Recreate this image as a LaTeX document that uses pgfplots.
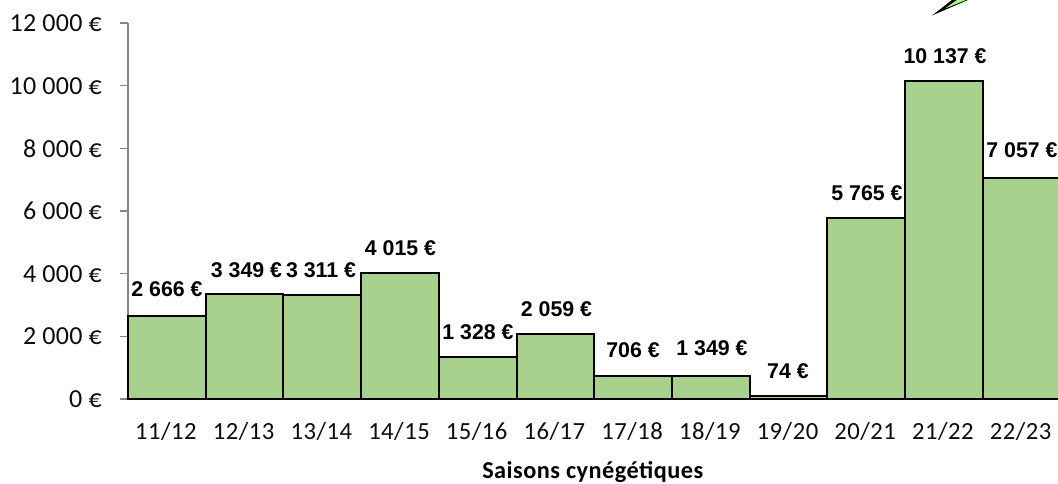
\documentclass[border=0pt]{standalone}
\usepackage{pgfplots}
\pgfplotsset{compat=1.18}
\usepackage{fontspec}
\setmainfont{Carlito}
\newfontfamily\lab{Liberation Sans}
\definecolor{barg}{HTML}{A9D18E}
\definecolor{axg}{HTML}{868686}
\begin{document}
\begin{tikzpicture}
\path[use as bounding box] (0pt,0pt) rectangle (793.5pt,363pt);
\begin{axis}[at={(96pt,63.75pt)},anchor=south west,scale only axis,width=697.5pt,height=282pt,
 clip=false,ymin=0,ymax=12000,xmin=-0.5,xmax=11.469,
 scaled y ticks=false,
 axis y line*=left,axis x line*=bottom,
 axis line style={axg,line width=1.1pt,-},
 xtick=data,xticklabels={11/12,12/13,13/14,14/15,15/16,16/17,17/18,18/19,19/20,20/21,21/22,22/23},
 ytick={0,2000,4000,6000,8000,10000,12000},
 yticklabels={0 €,2 000 €,4 000 €,6 000 €,8 000 €,10 000 €,12 000 €},
 major tick length=6pt,
 xtick style={draw=none},
 ytick style={axg,line width=0.8pt},
 tick align=outside,
 yticklabel style={font=\fontsize{19.5}{19.5}\selectfont\addfontfeatures{LetterSpace=1},text=black!95,inner sep=0pt,xshift=-13.5pt},
 xticklabel style={font=\fontsize{18.5}{18.5}\selectfont\addfontfeatures{LetterSpace=2},text=black!95,yshift=-8pt,xshift=-0.7pt},
 xlabel={\textbf{Saisons cynégétiques}},
 xlabel style={font=\fontsize{18.2}{18.2}\selectfont\addfontfeatures{LetterSpace=2},yshift=-9pt},
 ybar,bar width=1,bar shift=0pt,
]
\addplot[ybar,fill=barg,draw=black,line width=1.5pt] coordinates {
 (0,2650)(1,3349)(2,3311)(3,4015)(4,1328)(5,2059)(6,740)(7,740)(8,100)(9,5765)(10,10137)(11,7057)};
\tikzset{dl/.style={font=\lab\bfseries\fontsize{16}{16}\selectfont,text=black,inner sep=0pt}}
\node[dl] at (axis cs:0.002,3511) {2 666 €};
\node[dl] at (axis cs:1.025,4117) {3 349 €};
\node[dl] at (axis cs:1.984,4117) {3 311 €};
\node[dl] at (axis cs:3.007,4820) {4 015 €};
\node[dl] at (axis cs:4.004,2138) {1 328 €};
\node[dl] at (axis cs:5.015,2873) {2 059 €};
\node[dl] at (axis cs:6.0,1564) {706 €};
\node[dl] at (axis cs:7.016,1628) {1 349 €};
\node[dl] at (axis cs:7.994,894) {74 €};
\node[dl] at (axis cs:9.011,6575) {5 765 €};
\node[dl] at (axis cs:10.015,10948) {10 137 €};
\node[dl] at (axis cs:11.006,7947) {7 057 €};
\end{axis}
\begin{scope}[x=0.75pt,y=-0.75pt,yshift=363pt]
\fill[black] (932,15.5) -- (952,0) -- (968,0) -- cycle;
\fill[green!60!lime!50!white] (945,8.5) -- (957,0) -- (966,0) -- cycle;
\end{scope}
\end{tikzpicture}
\end{document}
